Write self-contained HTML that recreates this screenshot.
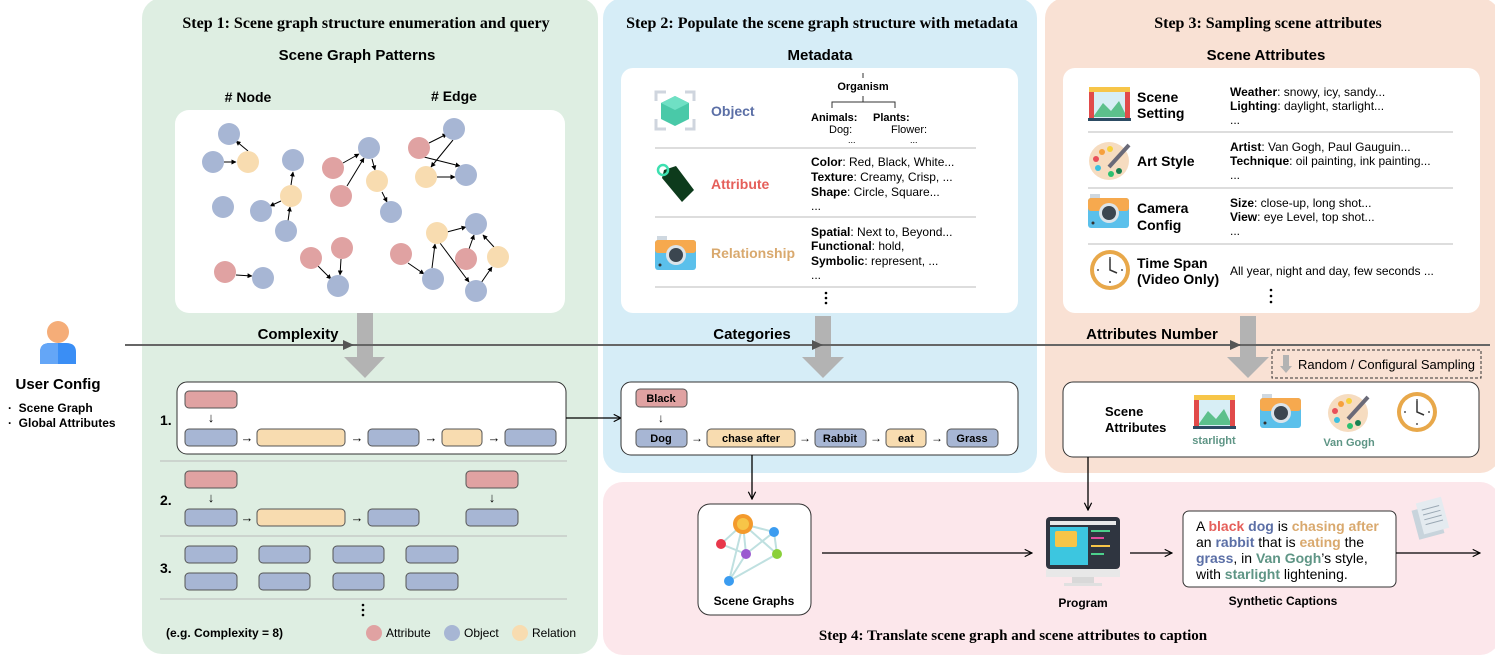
<!DOCTYPE html>
<html><head><meta charset="utf-8"><style>
body{margin:0;background:#fff;}
svg{display:block;font-family:"Liberation Sans",sans-serif;}
.t{font-family:"Liberation Serif",serif;font-weight:bold;font-size:16px;}
.h{font-weight:bold;font-size:15px;}
.b{font-weight:bold;}
</style></head><body>
<svg width="1495" height="655" viewBox="0 0 1495 655" xmlns="http://www.w3.org/2000/svg">
<defs>
<marker id="a" viewBox="0 0 10 10" refX="9" refY="5" markerWidth="7" markerHeight="7" orient="auto"><path d="M1,1 L9,5 L1,9" fill="none" stroke="#000" stroke-width="1.3"/></marker>
<marker id="s" viewBox="0 0 10 10" refX="9" refY="5" markerWidth="5" markerHeight="5" orient="auto"><path d="M0,0 L10,5 L0,10z" fill="#000"/></marker>
</defs>
<rect x="142" y="-2" width="456" height="656" rx="20" fill="#deeee2"/>
<rect x="603" y="-2" width="434" height="475" rx="20" fill="#d6edf7"/>
<rect x="1045" y="-2" width="455" height="475" rx="20" fill="#f9e1d4"/>
<rect x="603" y="482" width="897" height="173" rx="20" fill="#fce7eb"/>

<text class="t" x="366" y="28" text-anchor="middle">Step 1: Scene graph structure enumeration and query</text>
<text class="t" x="822" y="28" text-anchor="middle">Step 2: Populate the scene graph structure with metadata</text>
<text class="t" x="1268" y="28" text-anchor="middle">Step 3: Sampling scene attributes</text>
<text class="h" x="357" y="60" text-anchor="middle">Scene Graph Patterns</text>
<text class="h" x="820" y="60" text-anchor="middle">Metadata</text>
<text class="h" x="1266" y="60" text-anchor="middle">Scene Attributes</text>
<text class="h" x="248" y="102" text-anchor="middle" style="font-size:14px">#&#160;Node</text>
<text class="h" x="454" y="101" text-anchor="middle" style="font-size:14px">#&#160;Edge</text>

<rect x="175" y="110" width="390" height="203" rx="14" fill="#fff"/>
<g stroke="#000" stroke-width="1" marker-end="url(#s)">
<line x1="248" y1="151" x2="236" y2="141"/><line x1="224" y1="162" x2="236" y2="162"/>
<line x1="291" y1="185" x2="293" y2="172"/><line x1="281" y1="201" x2="270" y2="206"/><line x1="288" y1="221" x2="290" y2="207"/>
<line x1="343" y1="163" x2="359" y2="154"/><line x1="347" y1="186" x2="364" y2="158"/><line x1="372" y1="159" x2="375" y2="170"/><line x1="382" y1="192" x2="387" y2="202"/>
<line x1="429" y1="143" x2="447" y2="134"/><line x1="453" y1="140" x2="431" y2="167"/><line x1="424" y1="157" x2="460" y2="166"/><line x1="437" y1="177" x2="455" y2="177"/>
<line x1="236" y1="275" x2="252" y2="276"/><line x1="318" y1="266" x2="331" y2="279"/><line x1="341" y1="259" x2="340" y2="275"/>
<line x1="408" y1="263" x2="424" y2="274"/><line x1="432" y1="268" x2="435" y2="244"/><line x1="447" y1="232" x2="466" y2="227"/><line x1="469" y1="249" x2="474" y2="235"/><line x1="494" y1="247" x2="483" y2="235"/><line x1="440" y1="243" x2="469" y2="282"/><line x1="481" y1="283" x2="492" y2="267"/>
</g>
<g>
<circle cx="229" cy="134" r="11" fill="#a7b6d4"/><circle cx="213" cy="162" r="11" fill="#a7b6d4"/><circle cx="248" cy="162" r="11" fill="#f8dcb0"/>
<circle cx="293" cy="160" r="11" fill="#a7b6d4"/><circle cx="291" cy="196" r="11" fill="#f8dcb0"/><circle cx="223" cy="207" r="11" fill="#a7b6d4"/><circle cx="261" cy="211" r="11" fill="#a7b6d4"/><circle cx="286" cy="231" r="11" fill="#a7b6d4"/>
<circle cx="333" cy="168" r="11" fill="#e0a2a2"/><circle cx="369" cy="148" r="11" fill="#a7b6d4"/><circle cx="341" cy="196" r="11" fill="#e0a2a2"/><circle cx="377" cy="181" r="11" fill="#f8dcb0"/><circle cx="391" cy="212" r="11" fill="#a7b6d4"/>
<circle cx="419" cy="148" r="11" fill="#e0a2a2"/><circle cx="454" cy="129" r="11" fill="#a7b6d4"/><circle cx="426" cy="177" r="11" fill="#f8dcb0"/><circle cx="466" cy="175" r="11" fill="#a7b6d4"/>
<circle cx="225" cy="272" r="11" fill="#e0a2a2"/><circle cx="263" cy="278" r="11" fill="#a7b6d4"/><circle cx="311" cy="258" r="11" fill="#e0a2a2"/><circle cx="342" cy="248" r="11" fill="#e0a2a2"/><circle cx="338" cy="286" r="11" fill="#a7b6d4"/>
<circle cx="401" cy="254" r="11" fill="#e0a2a2"/><circle cx="437" cy="233" r="11" fill="#f8dcb0"/><circle cx="476" cy="224" r="11" fill="#a7b6d4"/><circle cx="466" cy="259" r="11" fill="#e0a2a2"/><circle cx="498" cy="257" r="11" fill="#f8dcb0"/><circle cx="433" cy="279" r="11" fill="#a7b6d4"/><circle cx="476" cy="291" r="11" fill="#a7b6d4"/>
</g>

<rect x="621" y="68" width="397" height="245" rx="12" fill="#fff"/>
<g stroke="#bbb"><line x1="655" y1="148" x2="976" y2="148"/><line x1="655" y1="217" x2="976" y2="217"/><line x1="655" y1="287" x2="976" y2="287"/></g>
<g fill="none" stroke="#cfd5de" stroke-width="3"><path d="M656,101 V92 H666"/><path d="M685,92 H694 V101"/><path d="M656,119 V129 H666"/><path d="M685,129 H694 V119"/></g>
<path d="M675,96 L689,103 L689,119 L675,126 L661,119 L661,103z" fill="#49c9a8"/><path d="M675,96 L689,103 L675,110 L661,103z" fill="#6fe0c4"/>
<text class="b" x="711" y="116" fill="#5b6fa6" font-size="14">Object</text>
<g stroke="#333" fill="none"><path d="M863,73 V78"/><path d="M863,96 V102 M832,108 V102 H895 V108"/></g>
<text class="b" x="863" y="90" font-size="11" text-anchor="middle">Organism</text>
<text class="b" x="811" y="121" font-size="11">Animals:</text><text class="b" x="873" y="121" font-size="11">Plants:</text>
<text x="829" y="133" font-size="11">Dog:</text><text x="891" y="133" font-size="11">Flower:</text>
<text x="848" y="143" font-size="9">...</text><text x="910" y="143" font-size="9">...</text>
<g transform="translate(654,162)"><path d="M10,8 L22,4 L40,28 L28,40 L8,16z" fill="#0d3b1c"/><circle cx="9" cy="8" r="5" fill="none" stroke="#3de0b0" stroke-width="2.5"/></g>
<text class="b" x="711" y="189" fill="#e55f5a" font-size="14">Attribute</text>
<g font-size="12"><text x="811" y="166"><tspan class="b">Color</tspan>: Red, Black, White...</text><text x="811" y="181"><tspan class="b">Texture</tspan>: Creamy, Crisp, ...</text><text x="811" y="196"><tspan class="b">Shape</tspan>: Circle, Square...</text><text x="811" y="210">...</text>
<text x="811" y="236"><tspan class="b">Spatial</tspan>: Next to, Beyond...</text><text x="811" y="250"><tspan class="b">Functional</tspan>: hold,</text><text x="811" y="265"><tspan class="b">Symbolic</tspan>: represent, ...</text><text x="811" y="279">...</text></g>
<g id="cam" transform="translate(655,236)"><rect x="2" y="0" width="10" height="6" fill="#cfd8e0"/><rect x="0" y="4" width="41" height="30" rx="3" fill="#5bc0eb"/><rect x="0" y="4" width="41" height="13" rx="3" fill="#f6a94e"/><circle cx="21" cy="19" r="10" fill="#dbe4ea"/><circle cx="21" cy="19" r="7" fill="#3b4650"/><circle cx="5" cy="29" r="1.5" fill="#333"/></g>
<text class="b" x="711" y="258" fill="#d9a96e" font-size="14">Relationship</text>
<g fill="#000"><circle cx="826" cy="293" r="1.3"/><circle cx="826" cy="298" r="1.3"/><circle cx="826" cy="303" r="1.3"/></g>

<rect x="1063" y="68" width="417" height="245" rx="12" fill="#fff"/>
<g stroke="#bbb"><line x1="1088" y1="132" x2="1453" y2="132"/><line x1="1088" y1="188" x2="1453" y2="188"/><line x1="1088" y1="244" x2="1453" y2="244"/></g>
<g id="stage" transform="translate(1089,87)"><rect x="0" y="0" width="41" height="34" fill="#d7eef5"/><path d="M4,30 L14,16 L22,24 L30,14 L38,30z" fill="#5cc08c"/><rect x="0" y="0" width="5" height="32" fill="#e14a4a"/><rect x="36" y="0" width="5" height="32" fill="#e14a4a"/><rect x="0" y="0" width="41" height="5" fill="#f7c548"/><rect x="-1" y="31" width="43" height="3" fill="#2c4b63"/></g>
<g class="b" font-size="14"><text x="1137" y="102">Scene</text><text x="1137" y="118">Setting</text><text x="1137" y="166">Art Style</text><text x="1137" y="213">Camera</text><text x="1137" y="230">Config</text><text x="1137" y="268">Time Span</text><text x="1137" y="284">(Video Only)</text></g>
<g id="pal" transform="translate(1089,140)"><ellipse cx="20" cy="21" rx="20" ry="19" fill="#f6dcc0"/><circle cx="13" cy="12" r="3" fill="#f6a03c"/><circle cx="21" cy="9" r="3" fill="#f7d13c"/><circle cx="7" cy="19" r="3" fill="#e9505a"/><circle cx="9" cy="28" r="3" fill="#3bc0e0"/><circle cx="22" cy="34" r="3" fill="#2cc070"/><circle cx="30" cy="31" r="3" fill="#1a8050"/><line x1="40" y1="5" x2="20" y2="27" stroke="#6a6a78" stroke-width="4"/></g>
<use href="#cam" x="433" y="-42"/>
<g id="clk" transform="translate(1110,270)"><circle r="20" fill="#e8a84a"/><circle r="16" fill="#fff"/><g fill="#555"><circle cx="0" cy="-12" r="1"/><circle cx="12" cy="0" r="1"/><circle cx="0" cy="12" r="1"/><circle cx="-12" cy="0" r="1"/></g><path d="M0,-11 V0 L7,3" stroke="#333" stroke-width="1.5" fill="none"/></g>
<g font-size="12"><text x="1230" y="96"><tspan class="b">Weather</tspan>: snowy, icy, sandy...</text><text x="1230" y="110"><tspan class="b">Lighting</tspan>: daylight, starlight...</text><text x="1230" y="124">...</text>
<text x="1230" y="151"><tspan class="b">Artist</tspan>: Van Gogh, Paul Gauguin...</text><text x="1230" y="165"><tspan class="b">Technique</tspan>: oil painting, ink painting...</text><text x="1230" y="179">...</text>
<text x="1230" y="207"><tspan class="b">Size</tspan>: close-up, long shot...</text><text x="1230" y="221"><tspan class="b">View</tspan>: eye Level, top shot...</text><text x="1230" y="235">...</text>
<text x="1230" y="275">All year, night and day, few seconds ...</text></g>
<g fill="#000"><circle cx="1271" cy="290" r="1.3"/><circle cx="1271" cy="296" r="1.3"/><circle cx="1271" cy="302" r="1.3"/></g>

<g fill="#b3b3b3"><path d="M357,313 H373 V357 H385 L365,378 L344,357 H357z"/><path d="M815,316 H831 V357 H844 L823,378 L802,357 H815z"/><path d="M1240,316 H1256 V357 H1269 L1248,378 L1227,357 H1240z"/></g>
<line x1="125" y1="345" x2="1490" y2="345" stroke="#666" stroke-width="2"/>
<g fill="#555"><path d="M343,340 L354,345 L343,350z"/><path d="M812,340 L823,345 L812,350z"/><path d="M1230,340 L1241,345 L1230,350z"/></g>
<text class="h" x="298" y="339" text-anchor="middle">Complexity</text>
<text class="h" x="752" y="339" text-anchor="middle">Categories</text>
<text class="h" x="1152" y="339" text-anchor="middle">Attributes Number</text>
<rect x="1272" y="350" width="209" height="28" fill="none" stroke="#333" stroke-dasharray="3,2"/>
<path d="M1283,355 H1289 V366 H1292 L1286,373 L1280,366 H1283z" fill="#b3b3b3"/>
<text x="1298" y="369" font-size="13">Random / Configural Sampling</text>

<circle cx="58" cy="332" r="11" fill="#f5ad78"/>
<path d="M40,364 V352 Q40,343 50,343 H66 Q76,343 76,352 V364z" fill="#3a8ef5"/><path d="M40,364 V352 Q40,343 50,343 H58 V364z" fill="#64a6f7"/>
<text class="h" x="58" y="389" text-anchor="middle">User Config</text>
<g class="b" font-size="12"><text x="8" y="412">·&#160;&#160;Scene Graph</text><text x="8" y="427">·&#160;&#160;Global Attributes</text></g>

<rect x="177" y="382" width="389" height="72" rx="10" fill="#fff" stroke="#333"/>
<g class="b" font-size="14"><text x="160" y="425">1.</text><text x="160" y="505">2.</text><text x="160" y="573">3.</text></g>
<g stroke="#bbb"><line x1="160" y1="461" x2="567" y2="461"/><line x1="160" y1="536" x2="567" y2="536"/><line x1="160" y1="599" x2="567" y2="599"/></g>
<g stroke="#555" stroke-width="1">
<rect x="185" y="391" width="52" height="17" rx="4" fill="#e0a2a2"/>
<rect x="185" y="429" width="52" height="17" rx="4" fill="#a7b6d4"/><rect x="257" y="429" width="88" height="17" rx="4" fill="#f8dcb0"/><rect x="368" y="429" width="51" height="17" rx="4" fill="#a7b6d4"/><rect x="442" y="429" width="40" height="17" rx="4" fill="#f8dcb0"/><rect x="505" y="429" width="51" height="17" rx="4" fill="#a7b6d4"/>
<rect x="185" y="471" width="52" height="17" rx="4" fill="#e0a2a2"/><rect x="466" y="471" width="52" height="17" rx="4" fill="#e0a2a2"/>
<rect x="185" y="509" width="52" height="17" rx="4" fill="#a7b6d4"/><rect x="257" y="509" width="88" height="17" rx="4" fill="#f8dcb0"/><rect x="368" y="509" width="51" height="17" rx="4" fill="#a7b6d4"/><rect x="466" y="509" width="52" height="17" rx="4" fill="#a7b6d4"/>
<rect x="185" y="546" width="52" height="17" rx="4" fill="#a7b6d4"/><rect x="259" y="546" width="51" height="17" rx="4" fill="#a7b6d4"/><rect x="333" y="546" width="51" height="17" rx="4" fill="#a7b6d4"/><rect x="406" y="546" width="52" height="17" rx="4" fill="#a7b6d4"/>
<rect x="185" y="573" width="52" height="17" rx="4" fill="#a7b6d4"/><rect x="259" y="573" width="51" height="17" rx="4" fill="#a7b6d4"/><rect x="333" y="573" width="51" height="17" rx="4" fill="#a7b6d4"/><rect x="406" y="573" width="52" height="17" rx="4" fill="#a7b6d4"/>
</g>
<g font-size="13" text-anchor="middle"><text x="211" y="422">↓</text><text x="247" y="442">→</text><text x="357" y="442">→</text><text x="431" y="442">→</text><text x="494" y="442">→</text>
<text x="211" y="502">↓</text><text x="492" y="502">↓</text><text x="247" y="522">→</text><text x="357" y="522">→</text></g>
<g fill="#000"><circle cx="363" cy="605" r="1.3"/><circle cx="363" cy="610" r="1.3"/><circle cx="363" cy="615" r="1.3"/></g>
<text class="b" x="166" y="637" font-size="12">(e.g. Complexity = 8)</text>
<circle cx="374" cy="633" r="8" fill="#e0a2a2"/><text x="386" y="637" font-size="12">Attribute</text>
<circle cx="452" cy="633" r="8" fill="#a7b6d4"/><text x="464" y="637" font-size="12">Object</text>
<circle cx="520" cy="633" r="8" fill="#f8dcb0"/><text x="532" y="637" font-size="12">Relation</text>
<line x1="566" y1="418" x2="621" y2="418" stroke="#000" stroke-width="1.3" marker-end="url(#a)"/>

<rect x="621" y="382" width="397" height="73" rx="10" fill="#fff" stroke="#333"/>
<g stroke="#555">
<rect x="636" y="389" width="51" height="18" rx="4" fill="#e0a2a2"/>
<rect x="636" y="429" width="51" height="18" rx="4" fill="#a7b6d4"/><rect x="707" y="429" width="88" height="18" rx="4" fill="#f8dcb0"/><rect x="815" y="429" width="51" height="18" rx="4" fill="#a7b6d4"/><rect x="886" y="429" width="40" height="18" rx="4" fill="#f8dcb0"/><rect x="947" y="429" width="51" height="18" rx="4" fill="#a7b6d4"/>
</g>
<g class="b" font-size="11" text-anchor="middle"><text x="661" y="402">Black</text><text x="661" y="442">Dog</text><text x="751" y="442">chase after</text><text x="840" y="442">Rabbit</text><text x="906" y="442">eat</text><text x="972" y="442">Grass</text></g>
<g font-size="12" text-anchor="middle"><text x="661" y="422">↓</text><text x="697" y="442">→</text><text x="805" y="442">→</text><text x="876" y="442">→</text><text x="937" y="442">→</text></g>

<rect x="1063" y="382" width="416" height="75" rx="10" fill="#fff" stroke="#333"/>
<g class="b" font-size="13"><text x="1105" y="416">Scene</text><text x="1105" y="432">Attributes</text></g>
<use href="#stage" x="105" y="308"/>
<use href="#cam" x="605" y="158"/>
<use href="#pal" x="239" y="252"/>
<use href="#clk" x="307" y="142"/>
<text class="b" x="1214" y="444" font-size="11" fill="#5e9585" text-anchor="middle">starlight</text>
<text class="b" x="1349" y="446" font-size="11" fill="#5e9585" text-anchor="middle">Van Gogh</text>

<line x1="752" y1="455" x2="752" y2="499" stroke="#000" stroke-width="1.3" marker-end="url(#a)"/>
<line x1="1088" y1="457" x2="1088" y2="510" stroke="#000" stroke-width="1.3" marker-end="url(#a)"/>
<rect x="698" y="504" width="113" height="111" rx="12" fill="#fff" stroke="#333"/>
<g stroke="#bfe0e0" stroke-width="2" fill="none"><path d="M743,524 L721,544 L746,554 L743,524 L774,532 L777,554 L729,581 L746,554 L774,532 M743,524 L729,581 M743,524 L777,554"/></g>
<circle cx="743" cy="524" r="10" fill="#f49a2c"/><circle cx="743" cy="524" r="6" fill="#f7c548"/>
<circle cx="721" cy="544" r="5" fill="#e8384b"/><circle cx="774" cy="532" r="5" fill="#3b9cf0"/><circle cx="746" cy="554" r="5" fill="#9b5bd0"/><circle cx="777" cy="554" r="5" fill="#8ad03a"/><circle cx="729" cy="581" r="5" fill="#3b9cf0"/>
<text class="b" x="754" y="605" font-size="12" text-anchor="middle">Scene Graphs</text>
<line x1="822" y1="553" x2="1032" y2="553" stroke="#000" stroke-width="1.3" marker-end="url(#a)"/>
<rect x="1046" y="517" width="74" height="52" rx="4" fill="#2f3540"/><rect x="1050" y="521" width="66" height="4" fill="#e8e8e8"/><rect x="1050" y="527" width="38" height="38" fill="#3cc6e0"/><rect x="1055" y="531" width="22" height="16" rx="2" fill="#f7c548"/>
<g stroke-width="2"><line x1="1091" y1="531" x2="1110" y2="531" stroke="#4cd08c"/><line x1="1091" y1="538" x2="1104" y2="538" stroke="#e04c9c"/><line x1="1091" y1="546" x2="1110" y2="546" stroke="#f7c548"/><line x1="1091" y1="554" x2="1104" y2="554" stroke="#4cd08c"/></g>
<rect x="1046" y="569" width="74" height="8" fill="#e8e8e8"/><rect x="1072" y="577" width="22" height="6" fill="#d8d8d8"/><rect x="1064" y="583" width="38" height="3" fill="#e0e0e0"/>
<text class="b" x="1083" y="607" font-size="12" text-anchor="middle">Program</text>
<line x1="1130" y1="553" x2="1172" y2="553" stroke="#000" stroke-width="1.3" marker-end="url(#a)"/>
<rect x="1183" y="511" width="213" height="76" rx="6" fill="#fff" stroke="#333"/>
<g font-size="14"><text x="1196" y="531">A <tspan class="b" fill="#e55f5a">black</tspan> <tspan class="b" fill="#5b6fa6">dog</tspan> is <tspan class="b" fill="#d9a96e">chasing after</tspan></text>
<text x="1196" y="547">an <tspan class="b" fill="#5b6fa6">rabbit</tspan> that is <tspan class="b" fill="#d9a96e">eating</tspan> the</text>
<text x="1196" y="563"><tspan class="b" fill="#5b6fa6">grass</tspan>, in <tspan class="b" fill="#5e9585">Van Gogh</tspan>’s style,</text>
<text x="1196" y="579">with <tspan class="b" fill="#5e9585">starlight</tspan> lightening.</text></g>
<text class="b" x="1283" y="605" font-size="12" text-anchor="middle">Synthetic Captions</text>
<line x1="1396" y1="553" x2="1480" y2="553" stroke="#000" stroke-width="1.3" marker-end="url(#a)"/>
<g transform="translate(1410,505) rotate(-15)"><rect x="0" y="6" width="26" height="30" fill="#c8d4dc"/><rect x="6" y="0" width="26" height="32" fill="#e4ebf0"/><g stroke="#9aa8b4"><line x1="10" y1="8" x2="28" y2="8"/><line x1="10" y1="13" x2="28" y2="13"/><line x1="10" y1="18" x2="28" y2="18"/><line x1="10" y1="23" x2="28" y2="23"/></g></g>
<text class="t" x="1013" y="640" text-anchor="middle" style="font-size:15px">Step 4: Translate scene graph and scene attributes to caption</text>
</svg>
</body></html>
